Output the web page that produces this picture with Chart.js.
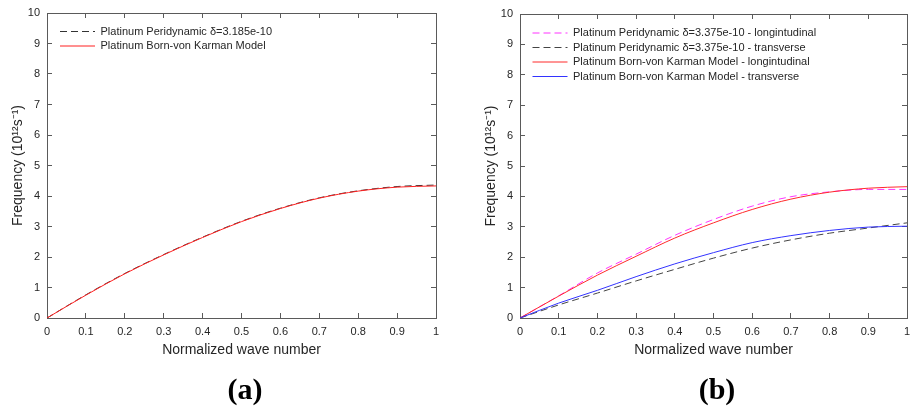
<!DOCTYPE html>
<html><head><meta charset="utf-8">
<script src="https://cdn.jsdelivr.net/npm/chart.js@4"></script>
<style>
html,body{margin:0;padding:0;background:#fff;width:912px;height:407px;overflow:hidden}
.panel{position:absolute;top:0;width:456px;height:407px}
.cap{position:absolute;font-family:"Liberation Serif","Times New Roman",serif;font-weight:bold;font-size:30px;line-height:30px;color:#000;transform:translate(-50%,-50%);white-space:nowrap}
</style></head><body>
<div class="panel" style="left:0"><canvas id="ca" width="456" height="407"></canvas></div>
<div class="panel" style="left:456px"><canvas id="cb" width="456" height="407"></canvas></div>
<div class="cap" style="left:245px;top:389px">(a)</div>
<div class="cap" style="left:717px;top:389px">(b)</div>
<script>
// ---- data ----
const waveNumber = [0, 0.1, 0.2, 0.3, 0.4, 0.5, 0.6, 0.7, 0.8, 0.9, 1.0];
const xTickLabels = ['0','0.1','0.2','0.3','0.4','0.5','0.6','0.7','0.8','0.9','1'];
const yTickLabels = ['0','1','2','3','4','5','6','7','8','9','10'];

// panel (a)
const pdA  = [0, 0.76, 1.46, 2.08, 2.65, 3.17, 3.60, 3.94, 4.17, 4.31, 4.36];
const bvkA = [0, 0.75, 1.45, 2.07, 2.64, 3.16, 3.59, 3.93, 4.16, 4.29, 4.33];

// panel (b)
const pdLongB   = [0, 0.73, 1.48, 2.10, 2.72, 3.24, 3.68, 3.99, 4.15, 4.23, 4.23];
const pdTransB  = [0, 0.43, 0.82, 1.22, 1.60, 1.97, 2.30, 2.57, 2.79, 2.96, 3.13];
const bvkLongB  = [0, 0.72, 1.41, 2.03, 2.63, 3.13, 3.57, 3.91, 4.14, 4.27, 4.32];
const bvkTransB = [0, 0.49, 0.91, 1.36, 1.78, 2.15, 2.48, 2.71, 2.88, 2.99, 3.02];

const labelsA = ['Platinum Peridynamic \u03B4=3.185e-10', 'Platinum Born-von Karman Model'];
const labelsB = ['Platinum Peridynamic \u03B4=3.375e-10 - longintudinal',
                 'Platinum Peridynamic \u03B4=3.375e-10 - transverse',
                 'Platinum Born-von Karman Model - longintudinal',
                 'Platinum Born-von Karman Model - transverse'];

// ---- helpers ----
const FONT = '"Liberation Sans", Arial, sans-serif';
const TEXT = '#262626';
const AXIS = '#5a5a5a';
const pts = ys => waveNumber.map((x, i) => ({x: x, y: ys[i]}));

function ds(label, ys, color, dash, order) {
  return {label, data: pts(ys), borderColor: color, backgroundColor: color,
          borderWidth: 1, borderDash: dash, pointRadius: 0, fill: false,
          cubicInterpolationMode: 'monotone', order: order};
}

const legendShift = {
  id: 'legendShift',
  beforeDraw(chart, args, opts) {
    const l = chart.legend;
    if (l) {
      l.left = chart.chartArea.left + opts.dx;
      l.top = chart.chartArea.top + opts.dy;
      l.right = chart.chartArea.right;
    }
  }
};

const noPad = s => { s.paddingTop = 0; s.paddingBottom = 0; s.paddingLeft = 0; s.paddingRight = 0; };

function makeChart(id, datasets, pad, shift) {
  const frameGrid = {drawOnChartArea: false, drawTicks: true, tickLength: -5, color: AXIS, lineWidth: 1};
  const border = {display: true, color: AXIS, width: 1};
  return new Chart(document.getElementById(id), {
    type: 'line',
    data: {datasets},
    plugins: [legendShift],
    options: {
      responsive: false, animation: false, devicePixelRatio: 1,
      layout: {padding: pad},
      plugins: {
        legendShift: shift,
        tooltip: {enabled: false},
        legend: {
          position: 'chartArea', align: 'start',
          labels: {
            usePointStyle: true, pointStyle: 'line', pointStyleWidth: 35,
            boxHeight: 11, padding: 3.5, color: TEXT,
            font: {family: FONT, size: 11},
            generateLabels: chart => {
              const items = Chart.defaults.plugins.legend.labels.generateLabels(chart);
              items.forEach(it => {
                const d = chart.data.datasets[it.datasetIndex];
                it.lineDash = d.borderDash || [];
                it.strokeStyle = d.borderColor;
                it.lineWidth = 1;
                it.pointStyle = 'line';
              });
              return items.sort((a, b) => a.datasetIndex - b.datasetIndex);
            }
          }
        }
      },
      scales: {
        x: {
          type: 'linear', position: 'bottom', min: 0, max: 1,
          ticks: {stepSize: 0.1, autoSkip: false, maxRotation: 0, padding: 12, color: TEXT,
                  font: {family: FONT, size: 11}, callback: (v, i) => xTickLabels[i]},
          grid: frameGrid, border,
          title: {display: true, text: 'Normalized wave number', color: TEXT,
                  font: {family: FONT, size: 14}, padding: {top: 0, bottom: 0}},
          afterFit: s => { s.height = 41; noPad(s); }
        },
        x2: {
          type: 'linear', position: 'top', min: 0, max: 1,
          ticks: {stepSize: 0.1, display: false, autoSkip: false},
          grid: frameGrid, border,
          afterFit: s => { s.height = 0; noPad(s); }
        },
        y: {
          type: 'linear', position: 'left', min: 0, max: 10,
          ticks: {stepSize: 1, autoSkip: false, padding: 12, color: TEXT,
                  font: {family: FONT, size: 11}, callback: (v, i) => yTickLabels[i]},
          grid: frameGrid, border,
          title: {display: true, text: 'Frequency (10\u00B9\u00B2s\u207B\u00B9)', color: TEXT,
                  font: {family: FONT, size: 14}, padding: {top: 9.5, bottom: 0}},
          afterFit: s => { s.width = 47; noPad(s); }
        },
        y2: {
          type: 'linear', position: 'right', min: 0, max: 10,
          ticks: {stepSize: 1, display: false, autoSkip: false},
          grid: frameGrid, border,
          afterFit: s => { s.width = 0; noPad(s); }
        }
      }
    }
  });
}

makeChart('ca', [
  ds(labelsA[0], pdA, '#333333', [7, 4], 1),
  ds(labelsA[1], bvkA, '#ff2020', [], 0)
], {left: 0, right: 20, top: 13, bottom: 48}, {dx: 9.5, dy: 9.5});

makeChart('cb', [
  ds(labelsB[0], pdLongB, '#ff33ff', [7, 4], 3),
  ds(labelsB[1], pdTransB, '#444444', [7, 4], 2),
  ds(labelsB[2], bvkLongB, '#ff2a2a', [], 1),
  ds(labelsB[3], bvkTransB, '#3333ff', [], 0)
], {left: 17, right: 5, top: 14, bottom: 48}, {dx: 9, dy: 10});
</script>
</body></html>
